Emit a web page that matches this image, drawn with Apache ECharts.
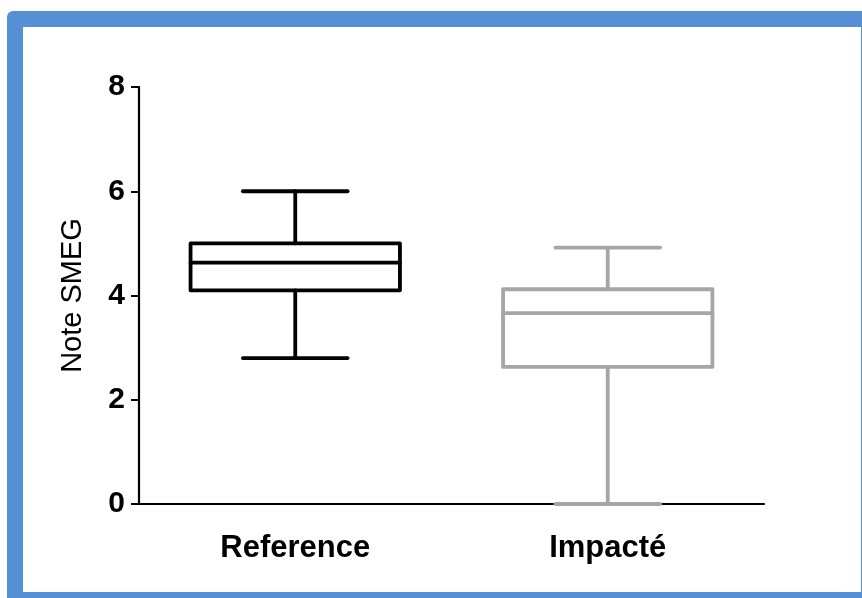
<!DOCTYPE html>
<html>
<head>
<meta charset="utf-8">
<script src="https://cdn.jsdelivr.net/npm/echarts@6/dist/echarts.min.js"></script>
<style>
html,body{margin:0;padding:0;background:#fff;}
#chart{width:862px;height:598px;}
</style>
</head>
<body>
<div id="chart"></div>
<script>
// Data
var categories = ['Reference', 'Impacté'];
// [min, Q1, median, Q3, max]
var referenceBox = [2.8, 4.1, 4.63, 5.0, 6.0];
var impacteBox = [0.0, 2.63, 3.66, 4.12, 4.92];
var yTicks = [0, 2, 4, 6, 8];
var seriesColors = ['#000000', '#a6a6a6'];

var boxes = [referenceBox, impacteBox];
var customData = boxes.map(function (b, i) { return [i].concat(b); });

var chart = echarts.init(document.getElementById('chart'), null, {renderer: 'canvas'});

function renderBox(params, api) {
  var idx = api.value(0);
  var band = api.size([1, 0])[0];
  var boxW = band * 0.67;
  var capW = boxW * 0.5;
  var pMin = api.coord([idx, api.value(1)]);
  var pQ1 = api.coord([idx, api.value(2)]);
  var pMed = api.coord([idx, api.value(3)]);
  var pQ3 = api.coord([idx, api.value(4)]);
  var pMax = api.coord([idx, api.value(5)]);
  var cx = pMed[0];
  var color = seriesColors[idx];
  var st = {stroke: color, lineWidth: 3.8, fill: null, lineCap: 'round', lineJoin: 'round'};
  return {
    type: 'group',
    children: [
      {type: 'rect', shape: {x: cx - boxW / 2, y: pQ3[1], width: boxW, height: pQ1[1] - pQ3[1]}, style: {stroke: color, lineWidth: 3.8, fill: '#fff', lineJoin: 'round'}},
      {type: 'line', shape: {x1: cx - boxW / 2, y1: pMed[1], x2: cx + boxW / 2, y2: pMed[1]}, style: st},
      {type: 'line', shape: {x1: cx, y1: pQ3[1], x2: cx, y2: pMax[1]}, style: st},
      {type: 'line', shape: {x1: cx, y1: pQ1[1], x2: cx, y2: pMin[1]}, style: st},
      {type: 'line', shape: {x1: cx - capW / 2, y1: pMax[1], x2: cx + capW / 2, y2: pMax[1]}, style: st},
      {type: 'line', shape: {x1: cx - capW / 2, y1: pMin[1], x2: cx + capW / 2, y2: pMin[1]}, style: st}
    ]
  };
}

var option = {
  backgroundColor: '#ffffff',
  animation: false,
  graphic: [
    {type: 'rect', z: -10, shape: {x: 7, y: 11, width: 870, height: 600, r: [6, 0, 0, 0]}, style: {fill: '#558fd5'}},
    {type: 'rect', z: -9, shape: {x: 23, y: 27, width: 838, height: 565}, style: {fill: '#ffffff'}}
  ],
  grid: {left: 139, right: 98, top: 87, bottom: 94, containLabel: false},
  xAxis: {
    type: 'category',
    data: categories,
    boundaryGap: true,
    axisLine: {lineStyle: {color: '#000', width: 2.2}},
    axisTick: {alignWithLabel: true, length: 9, lineStyle: {color: '#000', width: 2}},
    axisLabel: {color: '#000', fontFamily: 'Liberation Sans, Arial, sans-serif', fontWeight: 'bold', fontSize: 31, margin: 29},
    splitLine: {show: false}
  },
  yAxis: {
    type: 'value',
    min: yTicks[0],
    max: yTicks[yTicks.length - 1],
    interval: 2,
    name: 'Note SMEG',
    nameLocation: 'middle',
    nameGap: 52,
    nameRotate: 90,
    nameTextStyle: {color: '#000', fontFamily: 'Liberation Sans, Arial, sans-serif', fontSize: 29},
    axisLine: {show: true, lineStyle: {color: '#000', width: 2.2}},
    axisTick: {show: true, length: 8, lineStyle: {color: '#000', width: 2}},
    axisLabel: {color: '#000', fontFamily: 'Liberation Sans, Arial, sans-serif', fontWeight: 'bold', fontSize: 30, margin: 14},
    splitLine: {show: false}
  },
  series: [{
    type: 'custom',
    clip: false,
    renderItem: renderBox,
    encode: {x: 0, y: [1, 2, 3, 4, 5]},
    data: customData
  }]
};
chart.setOption(option);
</script>
</body>
</html>
